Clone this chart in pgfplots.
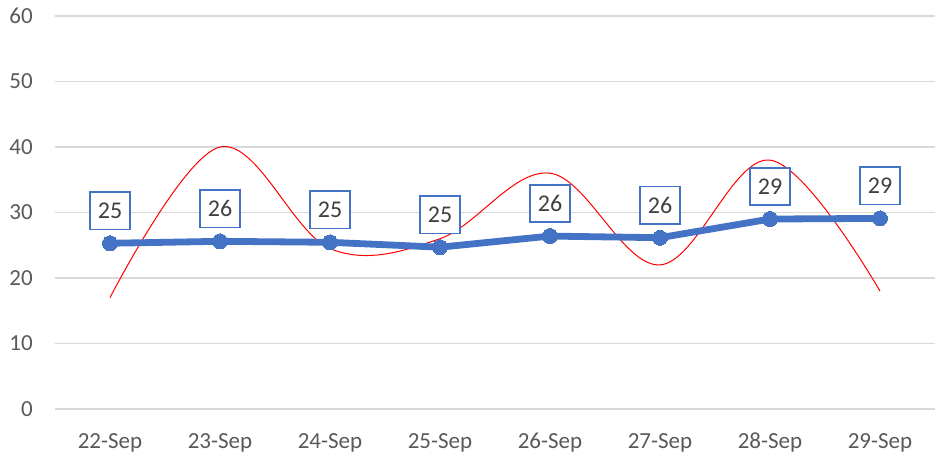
\documentclass[border=0pt]{standalone}
\usepackage{fontspec}
\setmainfont{Carlito}
\usepackage{pgfplots}
\pgfplotsset{compat=1.18}
\definecolor{cblue}{HTML}{4472C4}
\definecolor{cgrid}{HTML}{D9D9D9}
\definecolor{ctick}{HTML}{595959}
\definecolor{clabel}{HTML}{404040}
\begin{document}
\fontsize{23}{27}\selectfont
\begin{tikzpicture}
\begin{axis}[
  at={(55pt,48pt)}, anchor=south west,
  scale only axis,
  width=880pt, height=393pt,
  xmin=-0.5, xmax=7.5,
  ymin=0, ymax=60,
  ytick={0,10,...,60},
  xtick={0,...,7},
  xticklabels={22-Sep,23-Sep,24-Sep,25-Sep,26-Sep,27-Sep,28-Sep,29-Sep},
  axis line style={draw=none},
  ymajorgrids=true,
  grid style={cgrid, line width=1.2pt},
  major tick length=0pt,
  tick style={draw=none},
  tick label style={font=\fontsize{23}{27}\selectfont, text=ctick},
  xticklabel style={anchor=north, inner sep=0pt, yshift=-24pt},
  yticklabel style={anchor=east, inner sep=0pt, xshift=-22pt},
  /pgf/number format/assume math mode=true,
  clip=false,
]
\addplot[red, line width=1pt, smooth, tension=0.6] coordinates {
  (0,17) (1,40) (2,24.5) (3,26) (4,36) (5,22) (6,38) (7,18)
};
\addplot[cblue, line width=6.8pt, mark=*, mark size=7.5pt,
  mark options={fill=cblue, draw=cblue, line width=0pt},
  nodes near coords,
  point meta=explicit symbolic,
  every node near coord/.style={anchor=center, yshift=32.5pt,
    draw=cblue, line width=1.7pt, fill=white, text=clabel,
    minimum width=40.5pt, minimum height=37.5pt, inner sep=0pt,
    font=\fontsize{24}{28}\selectfont},
] coordinates {
  (0,25.3) [25] (1,25.6) [26] (2,25.45) [25] (3,24.7) [25]
  (4,26.4) [26] (5,26.15) [26] (6,29.0) [29] (7,29.1) [29]
};
\end{axis}
\pgfresetboundingbox
\path[use as bounding box] (0,0) rectangle (936pt,457pt);
\end{tikzpicture}
\end{document}
